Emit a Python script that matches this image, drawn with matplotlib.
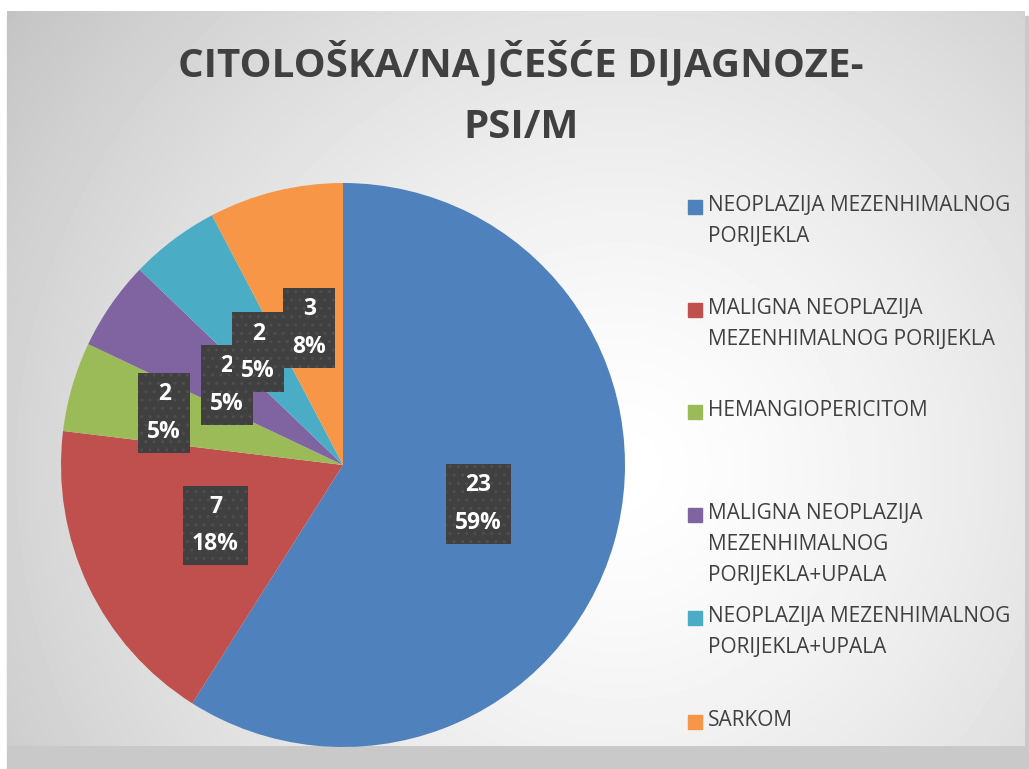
import numpy as np
import matplotlib
matplotlib.use('Agg')
import matplotlib.pyplot as plt
from matplotlib.patches import Rectangle

categories = [
    "NEOPLAZIJA MEZENHIMALNOG\nPORIJEKLA",
    "MALIGNA NEOPLAZIJA\nMEZENHIMALNOG PORIJEKLA",
    "HEMANGIOPERICITOM",
    "MALIGNA NEOPLAZIJA\nMEZENHIMALNOG\nPORIJEKLA+UPALA",
    "NEOPLAZIJA MEZENHIMALNOG\nPORIJEKLA+UPALA",
    "SARKOM",
]
counts = [23, 7, 2, 2, 2, 3]
percents = ["59%", "18%", "5%", "5%", "5%", "8%"]
colors = ["#4F81BD", "#C0504D", "#9BBB59", "#8064A2", "#4BACC6", "#F79646"]
title = "CITOLOŠKA/NAJČEŠĆE DIJAGNOZE-\nPSI/M"

# layout (pixels)
W, H = 1029, 769
label_dist = [0.5, 0.5, 0.66, 0.5, 0.5, 0.5]
legend_y = [207, 310, 412, 515, 618, 722]

fig = plt.figure(figsize=(W / 100, H / 100), dpi=100)
fig.patch.set_facecolor("white")

bg = fig.add_axes([0, 0, 1, 1])
bg.set_xlim(0, W)
bg.set_ylim(H, 0)
bg.axis("off")

# drop shadow + radial gradient chart area
bg.add_patch(Rectangle((7, 16), W - 7, H - 16, color="#c9c9c9", zorder=0))
yy, xx = np.mgrid[11:746, 7:1025]
d = np.hypot(xx - 620, yy - 470) / 780
grad = 1 - 0.24 * d ** 1.4
bg.imshow(grad, cmap="gray", vmin=0, vmax=1, extent=(7, 1025, 746, 11),
          aspect="auto", zorder=1, interpolation="bilinear")
bg.set_xlim(0, W)
bg.set_ylim(H, 0)

bg.text(521, 93, title, ha="center", va="center", fontsize=29, fontweight="bold",
        family="Open Sans", color="#404040", linespacing=1.75, zorder=3)

for y, lab, c in zip(legend_y, categories, colors):
    bg.add_patch(Rectangle((688, y - 7), 14, 14, color=c, zorder=3))
    bg.text(708, y - 12, lab, ha="left", va="top", fontsize=15, family="Open Sans",
            color="#404040", linespacing=1.62, zorder=3)

# pie
cx, cy, r = 343, 465, 282
ax = fig.add_axes([(cx - r) / W, (H - cy - r) / H, 2 * r / W, 2 * r / H])
wedges, _ = ax.pie(counts, colors=colors, startangle=90, counterclock=False,
                   wedgeprops=dict(linewidth=0))
ax.set_xlim(-1, 1)
ax.set_ylim(-1, 1)
ax.axis("off")

for w, n, p, dist in zip(wedges, counts, percents, label_dist):
    th = np.deg2rad((w.theta1 + w.theta2) / 2)
    ax.text(dist * np.cos(th), dist * np.sin(th), f"{n}\n{p}", ha="center", va="center",
            fontsize=16.5, fontweight="bold", family="Open Sans", color="white",
            linespacing=1.75,
            bbox=dict(boxstyle="square,pad=0.4", facecolor="#404040",
                      edgecolor="#4e4e4e", linewidth=0, hatch=".."))

fig.savefig("out.png", dpi=100)
